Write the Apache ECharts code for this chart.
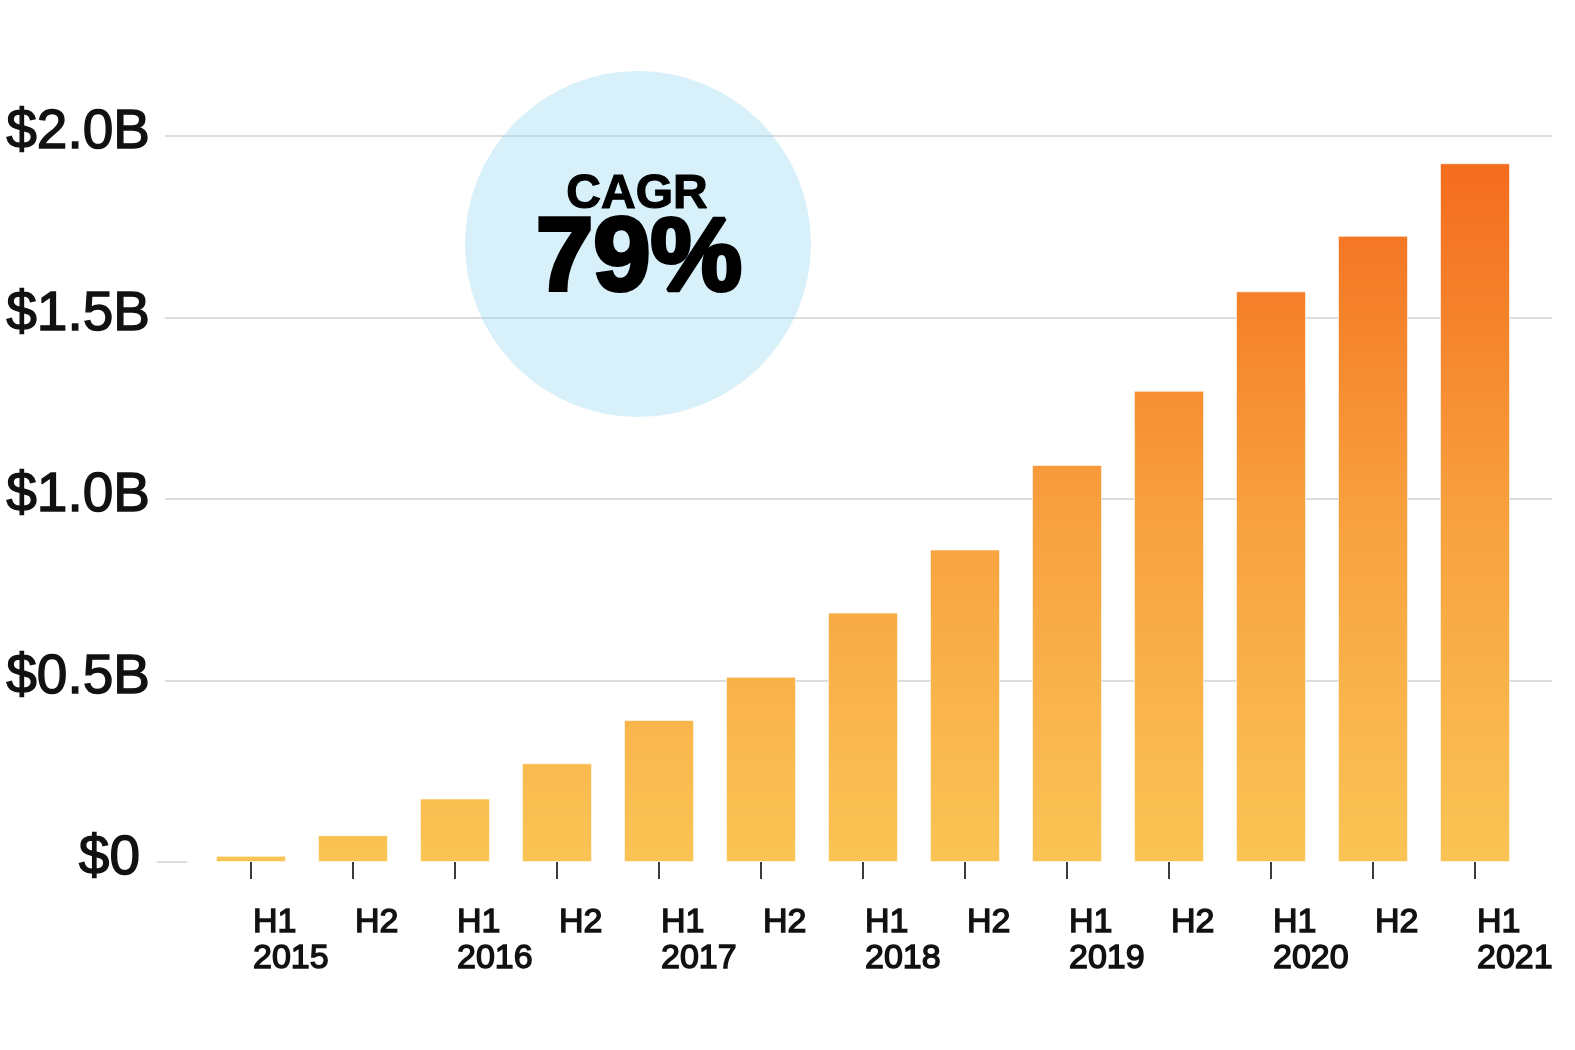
<!DOCTYPE html>
<html>
<head>
<meta charset="utf-8">
<script src="https://cdn.jsdelivr.net/npm/echarts@6/dist/echarts.min.js"></script>
<style>
  html, body { margin: 0; padding: 0; background: #ffffff; }
  #chart { width: 1575px; height: 1050px; }
</style>
</head>
<body>
<div id="chart"></div>
<script>
// ---- Data ----
const halves = ['H1','H2','H1','H2','H1','H2','H1','H2','H1','H2','H1','H2','H1'];
const years  = ['2015','','2016','','2017','','2018','','2019','','2020','','2021'];
const revenueB = [0.017, 0.074, 0.175, 0.272, 0.391, 0.51, 0.687, 0.861, 1.094, 1.298, 1.572, 1.725, 1.925];
const yTicks = [0, 0.5, 1.0, 1.5, 2.0];
const yTickLabels = ['$0', '$0.5B', '$1.0B', '$1.5B', '$2.0B'];
const badgeTitle = 'CAGR';
const badgeValue = '79%';

const categories = halves.map((h, i) => years[i] ? h + '\n' + years[i] : h);

const FONT = '"Liberation Sans", Arial, sans-serif';
const gridLine = 'rgba(0,0,0,0.135)';

const chart = echarts.init(document.getElementById('chart'), null, { renderer: 'canvas' });

const TOP = 136, BOTTOM_Y = 862;

const option = {
  backgroundColor: '#ffffff',
  animation: false,
  grid: [
    { left: 165, width: 1387, top: TOP, height: BOTTOM_Y - TOP, containLabel: false },
    { left: 200, width: 1326, top: TOP, height: BOTTOM_Y - TOP, containLabel: false }
  ],
  xAxis: [
    { gridIndex: 0, type: 'value', min: 0, max: 1, show: false },
    {
      gridIndex: 1, type: 'category', data: categories, offset: 5,
      axisLine: { show: false },
      axisTick: { show: true, alignWithLabel: true, length: 17, lineStyle: { color: '#3c3c3c', width: 2 } },
      axisLabel: {
        align: 'left', margin: 38, interval: 0,
        fontFamily: FONT, fontSize: 34, lineHeight: 36, color: '#111111',
        textBorderColor: '#111111', textBorderWidth: 1.4,
        padding: [0, 0, 0, 2]
      }
    }
  ],
  yAxis: [
    {
      gridIndex: 0, type: 'value', min: 0, max: 2, interval: 0.5,
      axisLine: { show: false }, axisTick: { show: false },
      splitLine: { show: true, lineStyle: { color: ['rgba(0,0,0,0)', gridLine, gridLine, gridLine, gridLine], width: 2 } },
      axisLabel: {
        margin: 15,
        formatter: function (v) {
          const i = yTicks.indexOf(+v.toFixed(2));
          const t = i >= 0 ? yTickLabels[i] : '';
          return v === 0 ? '{z|' + t + '}' : '{n|' + t + '}';
        },
        rich: {
          n: { fontFamily: FONT, fontSize: 55, color: '#111111', textBorderColor: '#111111', textBorderWidth: 1.4, padding: [0, 0, 6, 0] },
          z: { fontFamily: FONT, fontSize: 55, color: '#111111', textBorderColor: '#111111', textBorderWidth: 1.4, padding: [0, 10, 6, 0] }
        }
      }
    },
    { gridIndex: 1, type: 'value', min: 0, max: 2, interval: 0.5, show: false, splitLine: { show: false } }
  ],
  graphic: [
    {
      id: 'badge', type: 'circle', z: 50, silent: true,
      shape: { cx: 638, cy: 244, r: 173 },
      style: { fill: 'rgba(144,212,241,0.35)', stroke: 'rgba(0,0,0,0)', lineWidth: 0 }
    },
    {
      id: 'badgeTitle', type: 'text', z: 100, silent: true,
      style: {
        x: 637, y: 195, text: badgeTitle, align: 'center', verticalAlign: 'middle',
        font: 'bold 48px ' + FONT, fill: '#000000', stroke: '#000000', lineWidth: 1.2
      }
    },
    {
      id: 'badgeValue', type: 'text', z: 100, silent: true,
      style: {
        x: 639, y: 262, text: badgeValue, align: 'center', verticalAlign: 'middle',
        font: 'bold 103px ' + FONT, fill: '#000000', stroke: '#000000', lineWidth: 4
      }
    }
  ],
  series: [
    {
      type: 'bar', xAxisIndex: 1, yAxisIndex: 1,
      data: revenueB,
      barWidth: 70,
      itemStyle: {
        color: new echarts.graphic.LinearGradient(0, BOTTOM_Y, 0, 163, [
          { offset: 0, color: '#fac454' },
          { offset: 0.5, color: '#f8a03f' },
          { offset: 1, color: '#f46c1d' }
        ], true),
        borderColor: 'rgba(255,255,255,0.35)',
        borderWidth: 1
      }
    }
  ]
};

chart.setOption(option);

// short baseline segment at $0 next to the label
const y0 = chart.convertToPixel({ yAxisIndex: 0 }, 0);
chart.setOption({
  graphic: [
    {
      id: 'zeroStub', type: 'line', silent: true, z: 5,
      shape: { x1: 157, y1: y0, x2: 187, y2: y0 },
      style: { stroke: gridLine, lineWidth: 2 }
    }
  ]
});
</script>
</body>
</html>
